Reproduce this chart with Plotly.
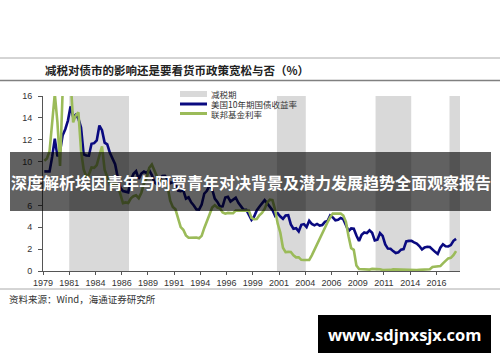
import plotly.graph_objects as go

# ---------------- data ----------------
START_YEAR = 1979
# US 10-year Treasury yield, quarterly (1979Q1 .. 2018Q2), %
UST10Y = [
    9.11, 9.11, 9.10, 10.45,
    12.10, 10.48, 10.95, 12.42,
    12.96, 13.75, 15.05, 14.09,
    14.29, 13.93, 13.12, 10.67,
    10.56, 10.54, 11.63, 11.69,
    11.94, 13.30, 12.87, 11.74,
    11.58, 10.81, 10.34, 9.76,
    8.56, 7.60, 7.31, 7.26,
    7.19, 8.34, 8.88, 9.12,
    8.42, 8.91, 9.10, 8.96,
    9.21, 8.77, 8.11, 7.91,
    8.42, 8.68, 8.70, 8.40,
    8.02, 8.13, 8.03, 7.35,
    7.30, 7.38, 6.62, 6.74,
    6.28, 5.99, 5.62, 5.61,
    6.07, 7.08, 7.33, 7.84,
    7.48, 6.62, 6.32, 5.89,
    5.91, 6.72, 6.78, 6.34,
    6.56, 6.70, 6.24, 5.91,
    5.59, 5.60, 5.20, 4.67,
    4.98, 5.54, 5.88, 6.14,
    6.48, 6.18, 5.89, 5.57,
    5.05, 5.27, 4.98, 4.77,
    5.08, 5.10, 4.26, 3.87,
    3.92, 3.62, 4.23, 4.29,
    4.02, 4.60, 4.30, 4.17,
    4.30, 4.16, 4.21, 4.49,
    4.57, 5.07, 4.90, 4.63,
    4.68, 4.85, 4.73, 4.26,
    3.66, 3.89, 3.86, 3.25,
    2.74, 3.31, 3.52, 3.46,
    3.72, 3.49, 2.79, 2.86,
    3.46, 3.21, 2.43, 2.05,
    2.04, 1.82, 1.64, 1.71,
    1.95, 2.00, 2.71, 2.75,
    2.76, 2.62, 2.50, 2.28,
    1.97, 2.16, 2.22, 2.19,
    1.92, 1.75, 1.56, 2.13,
    2.44, 2.26, 2.24, 2.37,
    2.76, 2.94,
]
# Effective federal funds rate, quarterly (1979Q1 .. 2018Q2), %
FED_FUNDS = [
    10.09, 10.29, 10.95, 13.58,
    16.20, 13.60, 9.60, 16.50,
    16.57, 17.78, 17.58, 13.59,
    14.23, 14.51, 11.01, 9.29,
    8.65, 8.80, 9.46, 9.43,
    9.69, 10.56, 11.39, 9.27,
    8.48, 7.92, 7.90, 8.10,
    7.83, 6.92, 6.21, 6.27,
    6.22, 6.65, 6.84, 6.92,
    6.66, 7.16, 7.98, 8.47,
    9.44, 9.73, 9.08, 8.61,
    8.25, 8.24, 8.16, 7.74,
    6.43, 5.86, 5.64, 4.82,
    4.02, 3.77, 3.26, 3.04,
    3.04, 3.00, 3.06, 2.99,
    3.21, 3.94, 4.49, 5.17,
    5.81, 6.02, 5.80, 5.72,
    5.36, 5.24, 5.31, 5.28,
    5.28, 5.52, 5.53, 5.51,
    5.52, 5.50, 5.53, 4.86,
    4.73, 4.75, 5.09, 5.31,
    5.68, 6.27, 6.52, 6.47,
    5.59, 4.33, 3.50, 2.13,
    1.73, 1.75, 1.74, 1.44,
    1.25, 1.25, 1.02, 1.00,
    1.00, 1.01, 1.43, 1.95,
    2.47, 2.94, 3.46, 3.98,
    4.46, 4.91, 5.25, 5.25,
    5.26, 5.25, 5.07, 4.50,
    3.18, 2.09, 1.94, 0.51,
    0.18, 0.18, 0.16, 0.12,
    0.13, 0.19, 0.19, 0.19,
    0.16, 0.09, 0.08, 0.07,
    0.10, 0.15, 0.14, 0.16,
    0.14, 0.12, 0.08, 0.09,
    0.07, 0.09, 0.09, 0.10,
    0.11, 0.12, 0.13, 0.16,
    0.36, 0.37, 0.39, 0.45,
    0.70, 0.95, 1.15, 1.20,
    1.45, 1.82,
]
# Tax-cut periods (decimal years)
TAXCUT_START = [1981.5, 2001.3, 2010.7, 2017.75]
TAXCUT_END = [1987.2, 2004.05, 2014.1, 2018.75]

X_TICK_LABELS = ["1979", "1981", "1984", "1986", "1989", "1991", "1994", "1996",
                 "1999", "2001", "2004", "2006", "2009", "2011", "2014", "2016"]
Y_MAX = 16

SERIES_NAMES = ["减税期", "美国10年期国债收益率", "联邦基金利率"]
TITLE = "减税对债市的影响还是要看货币政策宽松与否（%）"
SOURCE = "资料来源：Wind，海通证券研究所"
BANNER = "深度解析埃因青年与阿贾青年对决背景及潜力发展趋势全面观察报告"
SITE = "www.sdjnxsjx.com"

# ---------------- figure ----------------
x_q = [START_YEAR + 0.25 * i + 0.125 for i in range(len(UST10Y))]

W, H = 500, 362
L, R, T, B = 43, 40, 96, 91
PW, PH = W - L - R, H - T - B


def pxx(x):
    return (x - L) / PW


def pyy(y):
    return (H - B - y) / PH


BLUE = "#0a0a80"
GREEN = "#9bbb59"
SHADE = "#d9d9d9"
CJK = "Noto Sans CJK SC, sans-serif"
LAT = "Liberation Sans, Arial, sans-serif"

fig = go.Figure()
fig.add_trace(go.Scatter(x=x_q, y=UST10Y, mode="lines", name=SERIES_NAMES[1],
                         line=dict(color=BLUE, width=2.6), showlegend=False))
fig.add_trace(go.Scatter(x=x_q, y=FED_FUNDS, mode="lines", name=SERIES_NAMES[2],
                         line=dict(color=GREEN, width=2.6), showlegend=False))

shapes = []
for s, e in zip(TAXCUT_START, TAXCUT_END):
    shapes.append(dict(type="rect", xref="x", yref="y", x0=s, x1=e, y0=0, y1=Y_MAX,
                       fillcolor=SHADE, line=dict(width=0), layer="below"))

# header / footer rules
shapes += [
    dict(type="line", xref="paper", yref="paper", x0=pxx(0), x1=pxx(500), y0=pyy(58), y1=pyy(58),
         line=dict(color="#aaaaaa", width=1)),
    dict(type="line", xref="paper", yref="paper", x0=pxx(0), x1=pxx(500), y0=pyy(80.5), y1=pyy(80.5),
         line=dict(color="#808080", width=1.5)),
    dict(type="line", xref="paper", yref="paper", x0=pxx(0), x1=pxx(500), y0=pyy(289), y1=pyy(289),
         line=dict(color="#aaaaaa", width=1)),
]
# manual legend
shapes += [
    dict(type="rect", xref="paper", yref="paper", x0=pxx(180), x1=pxx(207), y0=pyy(97), y1=pyy(91),
         fillcolor=SHADE, line=dict(width=0)),
    dict(type="line", xref="paper", yref="paper", x0=pxx(180), x1=pxx(207), y0=pyy(104), y1=pyy(104),
         line=dict(color=BLUE, width=3)),
    dict(type="line", xref="paper", yref="paper", x0=pxx(180), x1=pxx(207), y0=pyy(113.5), y1=pyy(113.5),
         line=dict(color=GREEN, width=3)),
]
# overlay banner and site box
shapes += [
    dict(type="rect", xref="paper", yref="paper", x0=pxx(10), x1=pxx(491), y0=pyy(211), y1=pyy(152),
         fillcolor="rgba(0,0,0,0.62)", line=dict(width=0), layer="above"),
    dict(type="rect", xref="paper", yref="paper", x0=pxx(318), x1=pxx(491), y0=pyy(353), y1=pyy(315),
         fillcolor="#000000", line=dict(width=0), layer="above"),
]

annotations = [
    dict(text="<b>" + TITLE + "</b>", x=pxx(43), y=pyy(70), xref="paper", yref="paper",
         xanchor="left", yanchor="middle", showarrow=False,
         font=dict(family=CJK, size=11.5, color="#222222")),
    dict(text=SOURCE, x=pxx(7), y=pyy(299), xref="paper", yref="paper",
         xanchor="left", yanchor="middle", showarrow=False,
         font=dict(family=CJK, size=9.5, color="#333333")),
]
for name, yy in zip(SERIES_NAMES, [93.5, 103.8, 114]):
    annotations.append(dict(text=name, x=pxx(210), y=pyy(yy), xref="paper", yref="paper",
                            xanchor="left", yanchor="middle", showarrow=False, borderpad=0,
                            font=dict(family=CJK, size=8.5, color="#333333")))
annotations += [
    dict(text="<b>" + BANNER + "</b>", x=pxx(250.5), y=pyy(181.5), xref="paper", yref="paper",
         xanchor="center", yanchor="middle", showarrow=False,
         font=dict(family=CJK, size=16, color="#ffffff")),
    dict(text="<b>" + SITE + "</b>", x=pxx(404.5), y=pyy(334), xref="paper", yref="paper",
         xanchor="center", yanchor="middle", showarrow=False,
         font=dict(family="Open Sans, " + LAT, size=16.5, color="#ffffff")),
]

tickvals = [START_YEAR + 2.5 * k for k in range(len(X_TICK_LABELS))]

fig.update_layout(
    width=W, height=H, autosize=False,
    margin=dict(l=L, r=R, t=T, b=B, pad=0),
    paper_bgcolor="white", plot_bgcolor="white",
    showlegend=False,
    shapes=shapes, annotations=annotations,
    xaxis=dict(range=[START_YEAR, TAXCUT_END[-1]], tickvals=tickvals, ticktext=X_TICK_LABELS,
               showgrid=False, zeroline=False, showline=True, linecolor="#555555", linewidth=1,
               ticks="outside", ticklen=3, tickcolor="#555555", automargin=False,
               tickfont=dict(family=LAT, size=9, color="#333333")),
    yaxis=dict(range=[0, Y_MAX], dtick=2, showgrid=False, zeroline=False, showline=True,
               linecolor="#555555", linewidth=1, ticks="outside", ticklen=4, tickcolor="#555555",
               automargin=False,
               tickfont=dict(family=LAT, size=9, color="#333333"), ticklabelstandoff=4),
)

fig.write_html("out.html", config=dict(displayModeBar=False),
               post_script="document.body.style.margin='0';document.body.style.overflow='hidden';")
